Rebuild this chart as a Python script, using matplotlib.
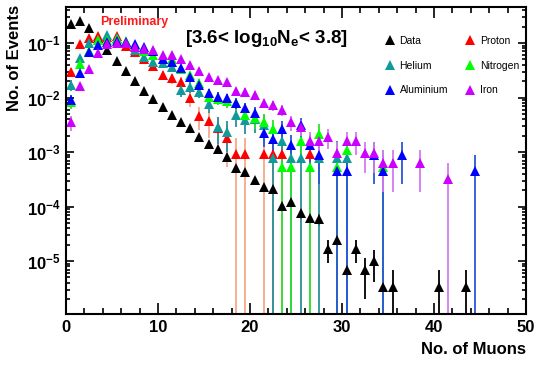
import numpy as np
import matplotlib
matplotlib.use("Agg")
import matplotlib.pyplot as plt
from matplotlib.lines import Line2D
from matplotlib.ticker import LogLocator, MultipleLocator, FuncFormatter, NullFormatter

plt.rcParams['font.family'] = ['Liberation Sans', 'DejaVu Sans']
plt.rcParams['mathtext.fontset'] = 'custom'
plt.rcParams['mathtext.rm'] = 'Liberation Sans'
plt.rcParams['mathtext.bf'] = 'Liberation Sans:bold'

# muon number bins 0..45 (points drawn at bin centres)
n_muons = np.arange(46) + 0.5

data = [0.223, 0.254, 0.188, 0.124, 0.0745, 0.0468, 0.0306, 0.0201, 0.0132, 0.0093,
        0.0066, 0.00477, 0.00358, 0.00273, 0.00191, 0.00138, 0.00112, 0.00082, 0.000503, 0.000437,
        0.000306, 0.000231, 0.000210, 0.000104, 0.000120, 7.6e-5, 6.1e-5, 5.9e-5, 1.7e-5, 2.4e-5,
        6.8e-6, 1.7e-5, 6.8e-6, 1.0e-5, 3.4e-6, 3.4e-6, 0, 0, 0, 0,
        3.4e-6, 0, 0, 3.4e-6, 0, 0]
proton = [0.0294, 0.096, 0.126, 0.134, 0.129, 0.134, 0.09, 0.068, 0.0503, 0.0379,
          0.0259, 0.0225, 0.0195, 0.0098, 0.00455, 0.00364, 0.00273, 0.00182, 0.00091, 0.00091,
          0, 0.00091, 0.00091, 0.00091, 0, 0, 0.00091, 0, 0, 0,
          0, 0, 0, 0, 0, 0, 0, 0, 0, 0,
          0, 0, 0, 0, 0, 0]
helium = [0.0170, 0.0523, 0.0987, 0.114, 0.14, 0.124, 0.104, 0.0745, 0.056, 0.045,
          0.0424, 0.0358, 0.0137, 0.0158, 0.0128, 0.00776, 0.0029, 0.00237, 0.00477, 0.00386,
          0.0040, 0.00316, 0.00079, 0.00158, 0.00079, 0.00079, 0, 0.00079, 0, 0.00079,
          0.00079, 0, 0, 0, 0, 0, 0, 0, 0, 0,
          0, 0, 0, 0, 0, 0]
nitrogen = [0.0083, 0.0407, 0.0714, 0.114, 0.114, 0.12, 0.11, 0.092, 0.07, 0.0603,
            0.050, 0.050, 0.033, 0.0259, 0.0185, 0.0104, 0.0095, 0.0085, 0.0078, 0.0048,
            0.0042, 0.0036, 0.0027, 0.00054, 0.00054, 0.00162, 0.00054, 0.00216, 0, 0.00054,
            0.00108, 0, 0, 0, 0.00054, 0, 0, 0, 0, 0,
            0, 0, 0, 0, 0, 0]
aluminium = [0.0090, 0.0278, 0.0675, 0.092, 0.105, 0.11, 0.105, 0.095, 0.083, 0.070,
             0.052, 0.0454, 0.0344, 0.0241, 0.0170, 0.0119, 0.0104, 0.0097, 0.0080, 0.00634,
             0.00513, 0.0022, 0.00176, 0.00264, 0.00132, 0.00308, 0.00132, 0.00088, 0, 0.00044,
             0.00044, 0, 0, 0.00088, 0.00044, 0, 0.00088, 0, 0, 0,
             0, 0, 0, 0, 0.00044, 0]
iron = [0.00355, 0.0163, 0.0334, 0.0656, 0.096, 0.099, 0.099, 0.0855, 0.0776, 0.0745,
        0.0603, 0.0615, 0.0502, 0.0395, 0.0306, 0.0235, 0.0210, 0.0190, 0.0132, 0.0128,
        0.0111, 0.00793, 0.00728, 0.00603, 0.00355, 0.0029, 0.0016, 0.0016, 0.00192, 0.00096,
        0.0016, 0.0016, 0.00096, 0.00096, 0.00064, 0.00064, 0, 0, 0.00064, 0,
        0, 0.00032, 0, 0, 0, 0]

# weight of a single event in each normalised histogram (Poisson errors)
unit = {"Data": 3.4e-6, "Proton": 9.1e-4, "Helium": 7.9e-4,
        "Nitrogen": 5.4e-4, "Aluminium": 4.4e-4, "Iron": 3.2e-4}

series = [("Data", data, "black", "black"),
          ("Proton", proton, "#ff0000", "#f7a889"),
          ("Helium", helium, "#129a9a", "#2a8f9a"),
          ("Nitrogen", nitrogen, "#00ff00", "#2ee02e"),
          ("Aluminium", aluminium, "#0000ff", "#2a55d8"),
          ("Iron", iron, "#cc00ff", "#d47af2")]

YMIN, YMAX = 1.07e-6, 0.458

fig = plt.figure(figsize=(5.35, 3.65), dpi=100)
ax = fig.add_axes([66 / 535, 51 / 365, 460 / 535, 307 / 365])

for name, vals, col, ecol in series:
    y = np.array(vals, dtype=float)
    m = y > 0
    x = n_muons[m]
    y = y[m]
    err = np.sqrt(y * unit[name])
    lo = np.minimum(err, y - YMIN * 0.5)
    ax.errorbar(x, y, yerr=[lo, err], fmt='^', color=col, ecolor=ecol,
                ms=6.8, mew=0, elinewidth=1.3, capsize=0)

ax.set_yscale('log')
ax.set_xlim(0, 50)
ax.set_ylim(YMIN, YMAX)

ax.xaxis.set_major_locator(MultipleLocator(10))
ax.xaxis.set_minor_locator(MultipleLocator(2))
ax.yaxis.set_major_locator(LogLocator(base=10, numticks=12))
ax.yaxis.set_minor_locator(LogLocator(base=10, subs=np.arange(2, 10), numticks=12))
ax.yaxis.set_major_formatter(FuncFormatter(lambda v, p: r'$\mathbf{10^{%d}}$' % round(np.log10(v))))
ax.yaxis.set_minor_formatter(NullFormatter())

ax.tick_params(which='both', direction='in', top=True, right=True, labelsize=12, pad=4)
ax.xaxis.set_tick_params(which='major', length=8, width=1.2)
ax.xaxis.set_tick_params(which='minor', length=4, width=1.2)
ax.yaxis.set_tick_params(which='major', length=6, width=1.2)
ax.yaxis.set_tick_params(which='minor', length=3, width=1.2)
for lab in ax.get_xticklabels():
    lab.set_fontweight('bold')
for s in ax.spines.values():
    s.set_linewidth(1.5)

fig.text(15 / 535, 1 - 5 / 365, 'No. of Events', rotation=90, ha='center', va='top',
         fontsize=12, fontweight='bold')
fig.text(526 / 535, 1 - 350 / 365, 'No. of Muons', ha='right', va='center',
         fontsize=12, fontweight='bold')

ax.text((100 - 66) / 460, (314 - 22) / 307, 'Preliminary', transform=ax.transAxes,
        color='#ff1a1a', fontsize=9, fontweight='bold', ha='left', va='center')
ax.text((185 - 66) / 460, (314 - 43) / 307, r'[3.6< log$_\mathbf{10}$N$_\mathbf{e}$< 3.8]',
        transform=ax.transAxes, fontsize=13.5, fontweight='bold', ha='left', va='baseline')

handles = {name: Line2D([], [], marker='^', ls='none', color=col, ms=6.8, mew=0)
           for name, vals, col, ecol in series}
order = ["Data", "Helium", "Aluminium", "Proton", "Nitrogen", "Iron"]
ax.legend([handles[n] for n in order], order, ncol=2, frameon=False, fontsize=7.5,
          loc='upper left', bbox_to_anchor=((385 - 66) / 460, (314 - 36) / 307),
          borderaxespad=0, borderpad=0, handlelength=0.9, handletextpad=0.5,
          labelspacing=1.4, columnspacing=1.7)

fig.savefig('out.png', dpi=100)
